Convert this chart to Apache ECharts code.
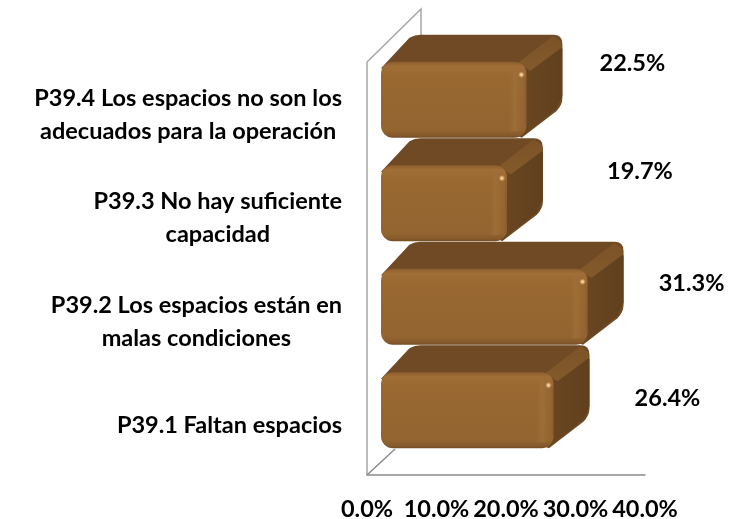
<!DOCTYPE html>
<html>
<head>
<meta charset="utf-8">
<style>
  html, body { margin: 0; padding: 0; background: #fff; }
  #chart { width: 742px; height: 519px; }
</style>
<script src="https://cdn.jsdelivr.net/npm/echarts@6/dist/echarts.min.js"></script>
</head>
<body>
<div id="chart"></div>
<script>
// from the bottom of the chart upwards
const categories = [
  'P39.1 Faltan espacios',
  'P39.2 Los espacios están en\nmalas condiciones',
  'P39.3 No hay suficiente\ncapacidad',
  'P39.4 Los espacios no son los\nadecuados para la operación'
];
const values = [26.4, 31.3, 19.7, 22.5];
const xTicks = [0, 10, 20, 30, 40];

// where the value labels sit relative to the bar end
const labelShiftX = [117, 107, 136, 109];
const labelShiftY = [-12, -23, -32, -36];

const FONT = 'Lato, "Open Sans", sans-serif';
const FONT_SIZE = 23.5;
const DEPTH_X = 36;
const DEPTH_Y = 27;

function vGrad(stops) {
  return new echarts.graphic.LinearGradient(0, 0, 0, 1, stops);
}
function hGrad(stops) {
  return new echarts.graphic.LinearGradient(0, 0, 1, 0, stops);
}

function renderBar(params, api) {
  const i = params.dataIndex;
  const end = api.coord([api.value(0), api.value(1)]);
  const zero = api.coord([0, api.value(1)]);
  const h = api.size([0, 1])[1] * 0.735;
  const x0 = zero[0] + 14;
  const x1 = end[0] + 3;
  const y0 = end[1] - h / 2;
  const y1 = end[1] + h / 2;
  const w = x1 - x0;
  const bx = x1 + DEPTH_X;
  const by = y0 - DEPTH_Y;
  const path = [
    'M', x0 + 3, y0 + 6,
    'L', x0 + DEPTH_X - 5, by + 3,
    'Q', x0 + DEPTH_X, by, x0 + DEPTH_X + 6, by,
    'L', bx - 9, by,
    'Q', bx, by, bx, by + 9,
    'L', bx, y1 - DEPTH_Y - 14,
    'Q', bx, y1 - DEPTH_Y - 7, bx - 6, y1 - DEPTH_Y - 1,
    'L', x1 - 4, y1 - 2,
    'Z'
  ].join(' ');
  return {
    type: 'group',
    children: [
      // top and right faces
      {
        type: 'path',
        shape: { pathData: path, x: x0, y: by, width: bx - x0, height: y1 - by, layout: 'cover' },
        style: { fill: '#6f4a24' }
      },
      {
        type: 'polygon',
        shape: { points: [[x1 - 8, y0 + 10], [x1 + 4, y0 + 8], [bx - 2, by + 12], [bx, by + 14], [bx, y1 - DEPTH_Y - 15], [bx - 6, y1 - DEPTH_Y - 2], [x1 - 4, y1 - 2]] },
        style: { fill: hGrad([{ offset: 0, color: '#6a4722' }, { offset: 1, color: '#61401e' }]) }
      },
      // lighter ridge between the top and right faces
      {
        type: 'polygon',
        shape: { points: [[x1 - 8, y0 + 1], [bx - 9, by + 1], [bx - 1, by + 7], [bx - 1, by + 13], [x1 + 4, y0 + 9]] },
        style: { fill: vGrad([{ offset: 0, color: '#7c5328' }, { offset: 1, color: '#835a2b' }]) }
      },
      // front face
      {
        type: 'rect',
        shape: { x: x0, y: y0, width: w, height: h, r: 12 },
        style: { fill: vGrad([
          { offset: 0, color: '#8b5e2e' },
          { offset: 0.06, color: '#a06e36' },
          { offset: 0.18, color: '#9a6932' },
          { offset: 0.9, color: '#936430' },
          { offset: 0.97, color: '#85592b' },
          { offset: 1, color: '#724d26' }
        ]) }
      },
      {
        type: 'rect',
        shape: { x: x1 - 18, y: y0 + 8, width: 18, height: h - 14, r: [0, 12, 12, 0] },
        style: { fill: hGrad([
          { offset: 0, color: 'rgba(154,105,50,0)' },
          { offset: 0.35, color: 'rgba(160,112,58,0.8)' },
          { offset: 0.85, color: 'rgba(146,100,50,0.5)' },
          { offset: 1, color: 'rgba(120,80,40,0.5)' }
        ]) }
      },
      // small shine on the corner
      {
        type: 'ellipse',
        shape: { cx: x1 - 5, cy: y0 + 13, rx: 3.5, ry: 6 },
        rotation: -0.3,
        originX: x1 - 5,
        originY: y0 + 13,
        style: { fill: new echarts.graphic.RadialGradient(0.5, 0.5, 0.5, [
          { offset: 0, color: '#fde3bb' },
          { offset: 0.4, color: '#e8b77f' },
          { offset: 1, color: 'rgba(190,140,80,0)' }
        ]) }
      },
      {
        type: 'text',
        style: {
          text: api.value(0).toFixed(1) + '%',
          x: end[0] + labelShiftX[i],
          y: end[1] + labelShiftY[i],
          align: 'center',
          verticalAlign: 'middle',
          font: 'bold ' + FONT_SIZE + 'px ' + FONT,
          fill: '#000'
        }
      }
    ]
  };
}

const chart = echarts.init(document.getElementById('chart'), null, { renderer: 'canvas' });
chart.setOption({
  animation: false,
  backgroundColor: '#fff',
  grid: { left: 367, width: 278, top: 48, height: 414, outerBoundsMode: 'none' },
  xAxis: {
    type: 'value',
    min: xTicks[0],
    max: xTicks[xTicks.length - 1],
    interval: 10,
    offset: 13,
    splitLine: { show: false },
    axisTick: { show: false },
    axisLine: { show: true, lineStyle: { color: '#8c8c8c', width: 1.5 } },
    axisLabel: {
      margin: 22,
      color: '#000',
      fontFamily: FONT,
      fontWeight: 'bold',
      fontSize: FONT_SIZE,
      formatter: v => v.toFixed(1) + '%'
    }
  },
  yAxis: {
    type: 'category',
    data: categories,
    axisLine: { show: false },
    axisTick: { show: false },
    axisLabel: {
      margin: 25,
      color: '#000',
      padding: [30, 0, 0, 0],
      formatter: v => v.split('\n').map(s => '{a|' + s + '}').join('\n'),
      rich: {
        a: {
          align: 'center',
          color: '#000',
          fontFamily: FONT,
          fontWeight: 'bold',
          fontSize: FONT_SIZE,
          lineHeight: 33
        }
      }
    }
  },
  // back wall and floor edges of the 3d box
  graphic: [
    {
      type: 'polyline',
      shape: { points: [[367, 475], [367, 62], [421, 9], [421, 36]] },
      style: { stroke: '#a6a6a6', lineWidth: 1.5, fill: null }
    },
    {
      type: 'line',
      shape: { x1: 367, y1: 475, x2: 395, y2: 449 },
      style: { stroke: '#8c8c8c', lineWidth: 1.5 }
    }
  ],
  series: [
    {
      type: 'custom',
      renderItem: renderBar,
      encode: { x: 0, y: 1 },
      data: values.map((v, i) => [v, i])
    }
  ]
});
</script>
</body>
</html>
